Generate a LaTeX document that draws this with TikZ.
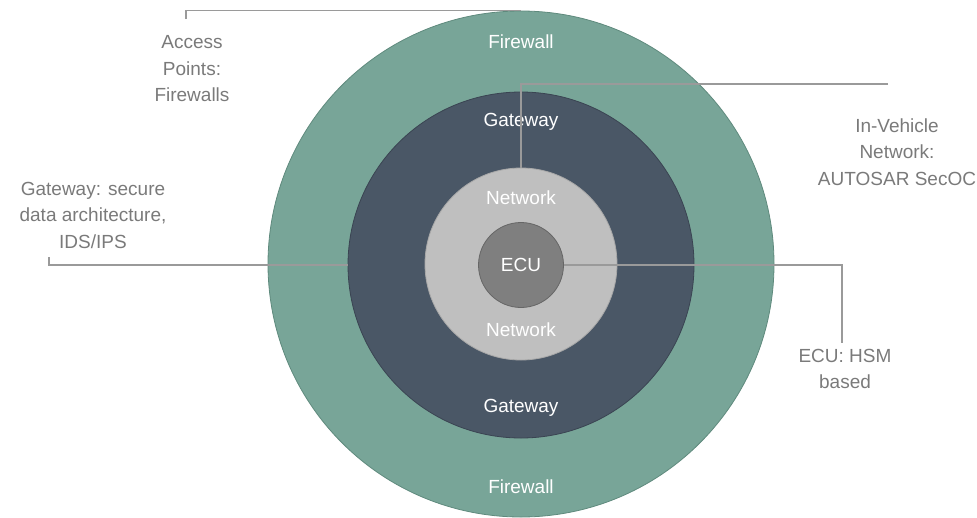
\documentclass[tikz,border=0pt]{standalone}
\usepackage{fontspec}
\setmainfont{Liberation Sans}
\definecolor{fwgreen}{HTML}{78A598}
\definecolor{fwedge}{HTML}{5F8A7D}
\definecolor{gwslate}{HTML}{4A5766}
\definecolor{gwedge}{HTML}{3A4452}
\definecolor{netgray}{HTML}{BFBFBF}
\definecolor{netedge}{HTML}{A8A8A8}
\definecolor{ecugray}{HTML}{7F7F7F}
\definecolor{ecuedge}{HTML}{666666}
\definecolor{labelgray}{HTML}{7A7A7A}
\definecolor{leadgray}{HTML}{9A9A9A}
\tikzset{
  ring/.style={circle, inner sep=0pt, line width=0.8pt},
  ringtext/.style={text=white, font=\fontsize{19}{24}\selectfont},
  sidetext/.style={text=labelgray, align=center, font=\fontsize{19}{26.5}\selectfont},
  leader/.style={draw=leadgray, line width=1.6pt}
}
\begin{document}
\begin{tikzpicture}[x=1pt, y=-1pt]
  \useasboundingbox (0,0) rectangle (977,517);

  % concentric security layers
  \node[ring, fill=fwgreen, draw=fwedge, minimum size=506pt] (fw) at (521,264) {};
  \node[ring, fill=gwslate, draw=gwedge, minimum size=346pt] (gw) at (521,265) {};
  \node[ring, fill=netgray, draw=netedge, minimum size=192pt] (net) at (521,264) {};
  \node[ring, fill=ecugray, draw=ecuedge, minimum size=85pt] (ecu) at (521,265) {};

  % layer names
  \node[ringtext] (fwtop) at (521,42) {Firewall};
  \node[ringtext] (fwbot) at (521,487) {Firewall};
  \node[ringtext] (gwtop) at (521,122) {Gateway};
  \node[ringtext] (gwbot) at (521,408) {Gateway};
  \node[ringtext] (nettop) at (521,198) {Network};
  \node[ringtext] (netbot) at (521,330) {Network};
  \node[ringtext] (ecutext) at (521,265) {ECU};

  % side descriptions
  \node[sidetext] (access) at (192,69) {Access\\Points:\\Firewalls};
  \node[sidetext] (invehicle) at (897,152) {In-Vehicle\\Network:\\AUTOSAR SecOC};
  \node[sidetext] (gwdesc) at (93,215) {Gateway: secure\\data architecture,\\IDS/IPS};
  \node[sidetext] (ecudesc) at (845,369) {ECU: HSM\\based};

  % leader line end points
  \coordinate (accessend) at (186,19);
  \coordinate (vehicleend) at (888,84);
  \coordinate (gwend) at (49,257);
  \coordinate (ecuend) at (842,343);

  % leader lines
  \draw[leader] (accessend) |- (fw.north);
  \draw[leader] (vehicleend) -| (net.north);
  \draw[leader] (gwend) |- (gw.west);
  \draw[leader] (ecu.east) -| (ecuend);
\end{tikzpicture}
\end{document}
